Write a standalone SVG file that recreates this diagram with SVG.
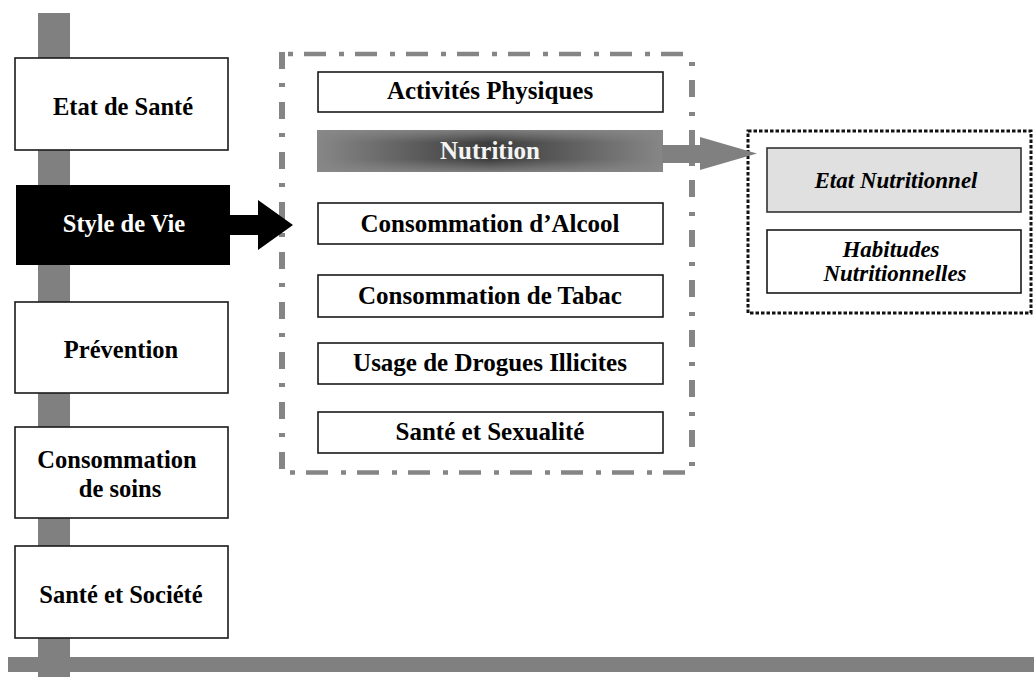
<svg xmlns="http://www.w3.org/2000/svg" width="1034" height="677" viewBox="0 0 1034 677">
<defs>
  <linearGradient id="nutH" x1="0" y1="0" x2="1" y2="0">
    <stop offset="0" stop-color="#878787"/>
    <stop offset="0.3" stop-color="#5a5a5a"/>
    <stop offset="0.5" stop-color="#3c3c3c"/>
    <stop offset="0.7" stop-color="#5a5a5a"/>
    <stop offset="1" stop-color="#878787"/>
  </linearGradient>
  <linearGradient id="nutV" x1="0" y1="0" x2="0" y2="1">
    <stop offset="0" stop-color="#888" stop-opacity="0.85"/>
    <stop offset="0.3" stop-color="#888" stop-opacity="0"/>
    <stop offset="0.7" stop-color="#888" stop-opacity="0"/>
    <stop offset="1" stop-color="#888" stop-opacity="0.85"/>
  </linearGradient>
</defs>
<style>
  .bar { fill: #808080; }
  .box { fill: #ffffff; stroke: #1a1a1a; stroke-width: 1.6; }
  .t { font-family: "Liberation Serif", "Times New Roman", serif; font-weight: bold; fill: #000; text-anchor: middle; }
  .lt { font-size: 24.5px; }
  .it { font-size: 25px; }
  .rt { font-size: 23px; font-style: italic; }
  .dashH { fill: none; stroke: #858585; stroke-width: 4.5; stroke-dasharray: 5 11 22 13; }
  .dashV { fill: none; stroke: #858585; stroke-width: 6; stroke-dasharray: 17 14 4 15; }
  .dot { fill: none; stroke: #111; stroke-width: 3; stroke-dasharray: 3.5 2; }
</style>
<rect width="1034" height="677" fill="#ffffff"/>

<g id="axes">
  <rect class="bar" x="38" y="13" width="32" height="664"/>
  <rect class="bar" x="8" y="657" width="1026" height="15"/>
</g>

<g id="node-etat-sante">
  <rect class="box" x="15" y="58" width="213" height="92"/>
  <text class="t lt" x="123" y="115">Etat de Santé</text>
</g>
<g id="node-style-de-vie">
  <rect x="16" y="185" width="214" height="80" fill="#000"/>
  <text class="t lt" x="124" y="232" fill="#fff" style="fill:#fff">Style de Vie</text>
</g>
<g id="node-prevention">
  <rect class="box" x="15" y="302" width="213" height="91"/>
  <text class="t lt" x="121" y="358">Prévention</text>
</g>
<g id="node-consommation-soins">
  <rect class="box" x="15" y="427" width="213" height="91"/>
  <text class="t lt" x="117" y="468">Consommation</text>
  <text class="t lt" x="120" y="497">de soins</text>
</g>
<g id="node-sante-societe">
  <rect class="box" x="15" y="546" width="213" height="92"/>
  <text class="t lt" x="121" y="603">Santé et Société</text>
</g>

<g id="group-style-de-vie">
  <line class="dashH" x1="288" y1="54" x2="686" y2="54"/>
  <line class="dashH" x1="290" y1="472.5" x2="690" y2="472.5" style="stroke-dashoffset:0"/>
  <line class="dashV" x1="282" y1="52" x2="282" y2="475"/>
  <line class="dashV" x1="692" y1="62" x2="692" y2="470" style="stroke-dasharray:4 14 17 15"/>
</g>

<g id="node-activites">
  <rect class="box" x="318" y="72" width="345" height="40"/>
  <text class="t it" x="490" y="99">Activités Physiques</text>
</g>
<g id="node-nutrition">
  <rect x="317" y="130" width="346" height="42" fill="url(#nutH)"/>
  <rect x="317" y="130" width="346" height="42" fill="url(#nutV)"/>
  <text class="t it" x="490" y="159" style="fill:#f4f4f4">Nutrition</text>
</g>
<g id="node-alcool">
  <rect class="box" x="318" y="203" width="345" height="41"/>
  <text class="t it" x="490" y="232">Consommation d’Alcool</text>
</g>
<g id="node-tabac">
  <rect class="box" x="318" y="275" width="345" height="42"/>
  <text class="t it" x="490" y="304">Consommation de Tabac</text>
</g>
<g id="node-drogues">
  <rect class="box" x="318" y="343" width="345" height="41"/>
  <text class="t it" x="490" y="371">Usage de Drogues Illicites</text>
</g>
<g id="node-sexualite">
  <rect class="box" x="318" y="412" width="345" height="41"/>
  <text class="t it" x="490" y="440">Santé et Sexualité</text>
</g>

<g id="group-nutrition">
  <rect class="dot" x="748" y="131" width="283" height="182"/>
</g>
<g id="node-etat-nutritionnel">
  <rect x="767" y="148" width="254" height="64" fill="#e0e0e0" stroke="#333" stroke-width="1.6"/>
  <text class="t rt" x="896" y="188">Etat Nutritionnel</text>
</g>
<g id="node-habitudes">
  <rect class="box" x="767" y="230" width="254" height="63"/>
  <text class="t rt" x="891" y="257">Habitudes</text>
  <text class="t rt" x="895" y="281">Nutritionnelles</text>
</g>

<g id="connectors">
  <polygon points="228,215 258,215 258,200 293,225 258,250 258,235 228,235" fill="#000"/>
  <polygon points="662,145 700,145 700,137 757,153.5 700,170 700,163 662,163" fill="#808080"/>
</g>
</svg>
